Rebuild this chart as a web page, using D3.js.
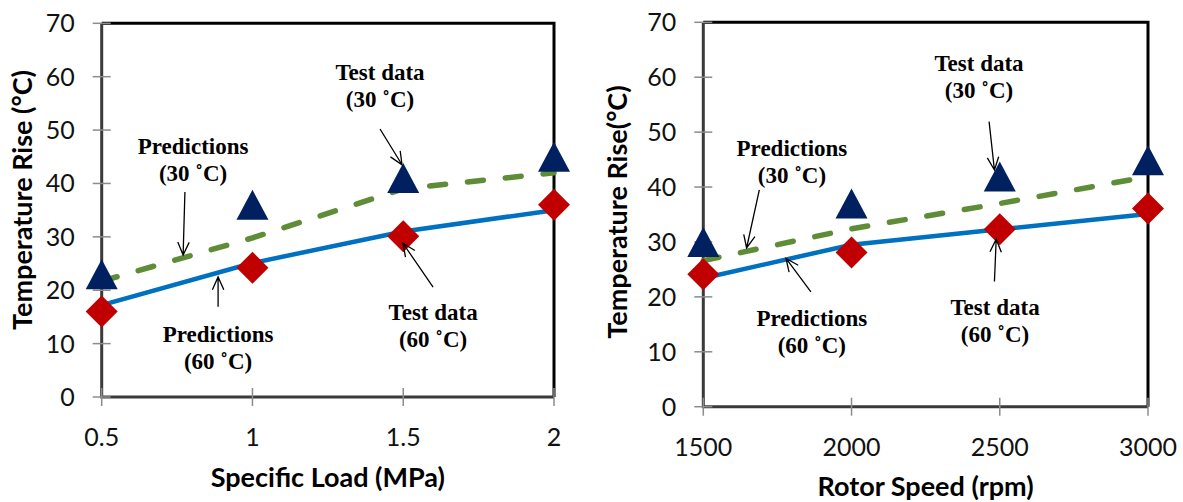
<!DOCTYPE html>
<style>
  html, body { margin: 0; background: white; }
  svg { display: block; }
  .tick-label { font-family: Lato, "Open Sans", sans-serif; font-size: 25px; fill: #111; }
  .axis-title { font-family: Lato, "Open Sans", sans-serif; font-size: 27px; font-weight: bold; fill: #000; }
  .note { font-family: "Liberation Serif", "Times New Roman", serif; font-size: 23px; font-weight: bold; fill: #000; }
</style>
<body>
</body>
<script src="https://cdn.jsdelivr.net/npm/d3@7"></script>
<script>
  // values
  const yTicks = [0, 10, 20, 30, 40, 50, 60, 70];

  const loadX = [0.5, 1, 1.5, 2];
  const loadTickLabels = ['0.5', '1', '1.5', '2'];
  const loadTest30 = [23, 36, 41, 45];
  const loadTest60 = [16, 24.2, 30.1, 36];
  const loadPred30 = [21.7, 29.8, 39, 42];
  const loadPred60 = [17.2, 25.1, 31, 35];

  const speedX = [1500, 2000, 2500, 3000];
  const speedTickLabels = ['1500', '2000', '2500', '3000'];
  const speedTest30 = [30, 37, 41.9, 44.9];
  const speedTest60 = [24.1, 28.1, 32.3, 36.1];
  const speedPred30 = [26.6, 32.4, 37, 41.9];
  const speedPred60 = [23.4, 29.5, 32.3, 35.1];

  // annotations: label position and arrow tail -> tip, in data units
  const loadNotes = [
    {lines: ['Predictions', '(30 ˚C)'], x: 0.803, y: 47.0, from: [0.776, 38.4], to: [0.770, 26.6]},
    {lines: ['Predictions', '(60 ˚C)'], x: 0.886, y: 11.8, from: [0.886, 16.9], to: [0.886, 22.5]},
    {lines: ['Test data', '(30 ˚C)'], x: 1.423, y: 60.9, from: [1.423, 50.2], to: [1.496, 43.5]},
    {lines: ['Test data', '(60 ˚C)'], x: 1.599, y: 15.9, from: [1.599, 20.6], to: [1.499, 28.8]},
  ];
  const speedNotes = [
    {lines: ['Predictions', '(30 ˚C)'], x: 1799, y: 47.1, from: [1689, 39.5], to: [1646, 28.9]},
    {lines: ['Predictions', '(60 ˚C)'], x: 1866, y: 16.1, from: [1863, 20.9], to: [1779, 27.0]},
    {lines: ['Test data', '(30 ˚C)'], x: 2430, y: 62.6, from: [2464, 51.9], to: [2482, 43.1]},
    {lines: ['Test data', '(60 ˚C)'], x: 2484, y: 18.2, from: [2482, 22.8], to: [2488, 30.5]},
  ];

  const W = 1183, H = 502;
  const navy = '#002060', red = '#c00000', blue = '#0070c0', green = '#5e8c37';

  const svg = d3.select('body').append('svg')
    .attr('width', W)
    .attr('height', H);

  function panel(o) {
    const x = d3.scaleLinear().domain(o.xDomain).range([o.l, o.r]);
    const y = d3.scaleLinear().domain([0, 70]).range([o.b, o.t]);
    const g = svg.append('g');

    // frame: top/right black, left/bottom dark gray
    g.append('path')
      .attr('d', `M${o.l},${o.t}H${o.r}V${o.b}`)
      .attr('fill', 'none').attr('stroke', '#000').attr('stroke-width', 3);
    g.append('path')
      .attr('d', `M${o.l},${o.t}V${o.b}H${o.r}`)
      .attr('fill', 'none').attr('stroke', '#3a3a3a').attr('stroke-width', 3);

    // cross ticks
    g.selectAll('.yt').data(yTicks).join('line')
      .attr('x1', o.l - 9).attr('x2', o.l + 9)
      .attr('y1', d => y(d)).attr('y2', d => y(d))
      .attr('stroke', '#8c8c8c').attr('stroke-width', 1.5);
    g.selectAll('.xt').data(o.xs).join('line')
      .attr('x1', d => x(d)).attr('x2', d => x(d))
      .attr('y1', o.b - 9).attr('y2', o.b + 9)
      .attr('stroke', '#8c8c8c').attr('stroke-width', 1.5);

    g.selectAll('.yl').data(yTicks).join('text')
      .attr('class', 'tick-label')
      .attr('x', o.l - 27).attr('y', d => y(d))
      .attr('dy', '0.36em')
      .attr('text-anchor', 'end')
      .text(d => d);
    g.selectAll('.xl').data(o.xs).join('text')
      .attr('class', 'tick-label')
      .attr('x', d => x(d)).attr('y', o.b + 40)
      .attr('dy', '0.36em')
      .attr('text-anchor', 'middle')
      .text((d, i) => o.tickLabels[i]);

    g.append('text').attr('class', 'axis-title')
      .attr('x', (o.l + o.r) / 2).attr('y', o.b + 80)
      .attr('dy', '0.36em')
      .attr('text-anchor', 'middle')
      .text(o.xTitle);
    g.append('text').attr('class', 'axis-title')
      .attr('transform', `translate(${o.yTitleX},${o.yTitleY}) rotate(-90)`)
      .attr('dy', '0.36em')
      .attr('text-anchor', 'middle')
      .text(o.yTitle);

    const line = d3.line().x(d => x(d[0])).y(d => y(d[1]));
    g.append('path')
      .attr('d', line(d3.zip(o.xs, o.pred60)))
      .attr('fill', 'none').attr('stroke', blue).attr('stroke-width', 4.5);
    g.append('path')
      .attr('d', line(d3.zip(o.xs, o.pred30)))
      .attr('fill', 'none').attr('stroke', green).attr('stroke-width', 5.5)
      .attr('stroke-linecap', 'round')
      .attr('stroke-dasharray', '16 22');

    g.selectAll('.tri').data(d3.zip(o.xs, o.test30)).join('path')
      .attr('transform', d => `translate(${x(d[0])},${y(d[1])})`)
      .attr('d', 'M0,-15L16,15L-16,15Z')
      .attr('fill', navy);
    g.selectAll('.dia').data(d3.zip(o.xs, o.test60)).join('path')
      .attr('transform', d => `translate(${x(d[0])},${y(d[1])})`)
      .attr('d', 'M0,-16L16,0L0,16L-16,0Z')
      .attr('fill', red);

    // annotations
    for (const n of o.notes) {
      const t = g.append('text').attr('class', 'note')
        .attr('text-anchor', 'middle');
      n.lines.forEach((s, i) => {
        t.append('tspan')
          .attr('x', x(n.x)).attr('y', y(n.y) + i * 27)
          .attr('dy', '0.35em')
          .text(s);
      });
      const x1 = x(n.from[0]), y1 = y(n.from[1]);
      const x2 = x(n.to[0]), y2 = y(n.to[1]);
      const a = Math.atan2(y2 - y1, x2 - x1);
      const len = 14, spread = 0.42;
      const p = d3.path();
      p.moveTo(x1, y1); p.lineTo(x2, y2);
      p.moveTo(x2 - len * Math.cos(a - spread), y2 - len * Math.sin(a - spread));
      p.lineTo(x2, y2);
      p.lineTo(x2 - len * Math.cos(a + spread), y2 - len * Math.sin(a + spread));
      g.append('path').attr('d', p.toString())
        .attr('fill', 'none').attr('stroke', '#000').attr('stroke-width', 1.3);
    }
  }

  panel({
    l: 101.7, r: 554, t: 23.3, b: 397,
    xDomain: [0.5, 2], xs: loadX, tickLabels: loadTickLabels,
    test30: loadTest30, test60: loadTest60, pred30: loadPred30, pred60: loadPred60,
    notes: loadNotes,
    xTitle: 'Specific Load (MPa)',
    yTitle: 'Temperature Rise (°C)', yTitleX: 22, yTitleY: 200,
  });

  panel({
    l: 703.3, r: 1148, t: 22.3, b: 406.7,
    xDomain: [1500, 3000], xs: speedX, tickLabels: speedTickLabels,
    test30: speedTest30, test60: speedTest60, pred30: speedPred30, pred60: speedPred60,
    notes: speedNotes,
    xTitle: 'Rotor Speed (rpm)',
    yTitle: 'Temperature Rise(°C)', yTitleX: 617, yTitleY: 212,
  });
</script>
